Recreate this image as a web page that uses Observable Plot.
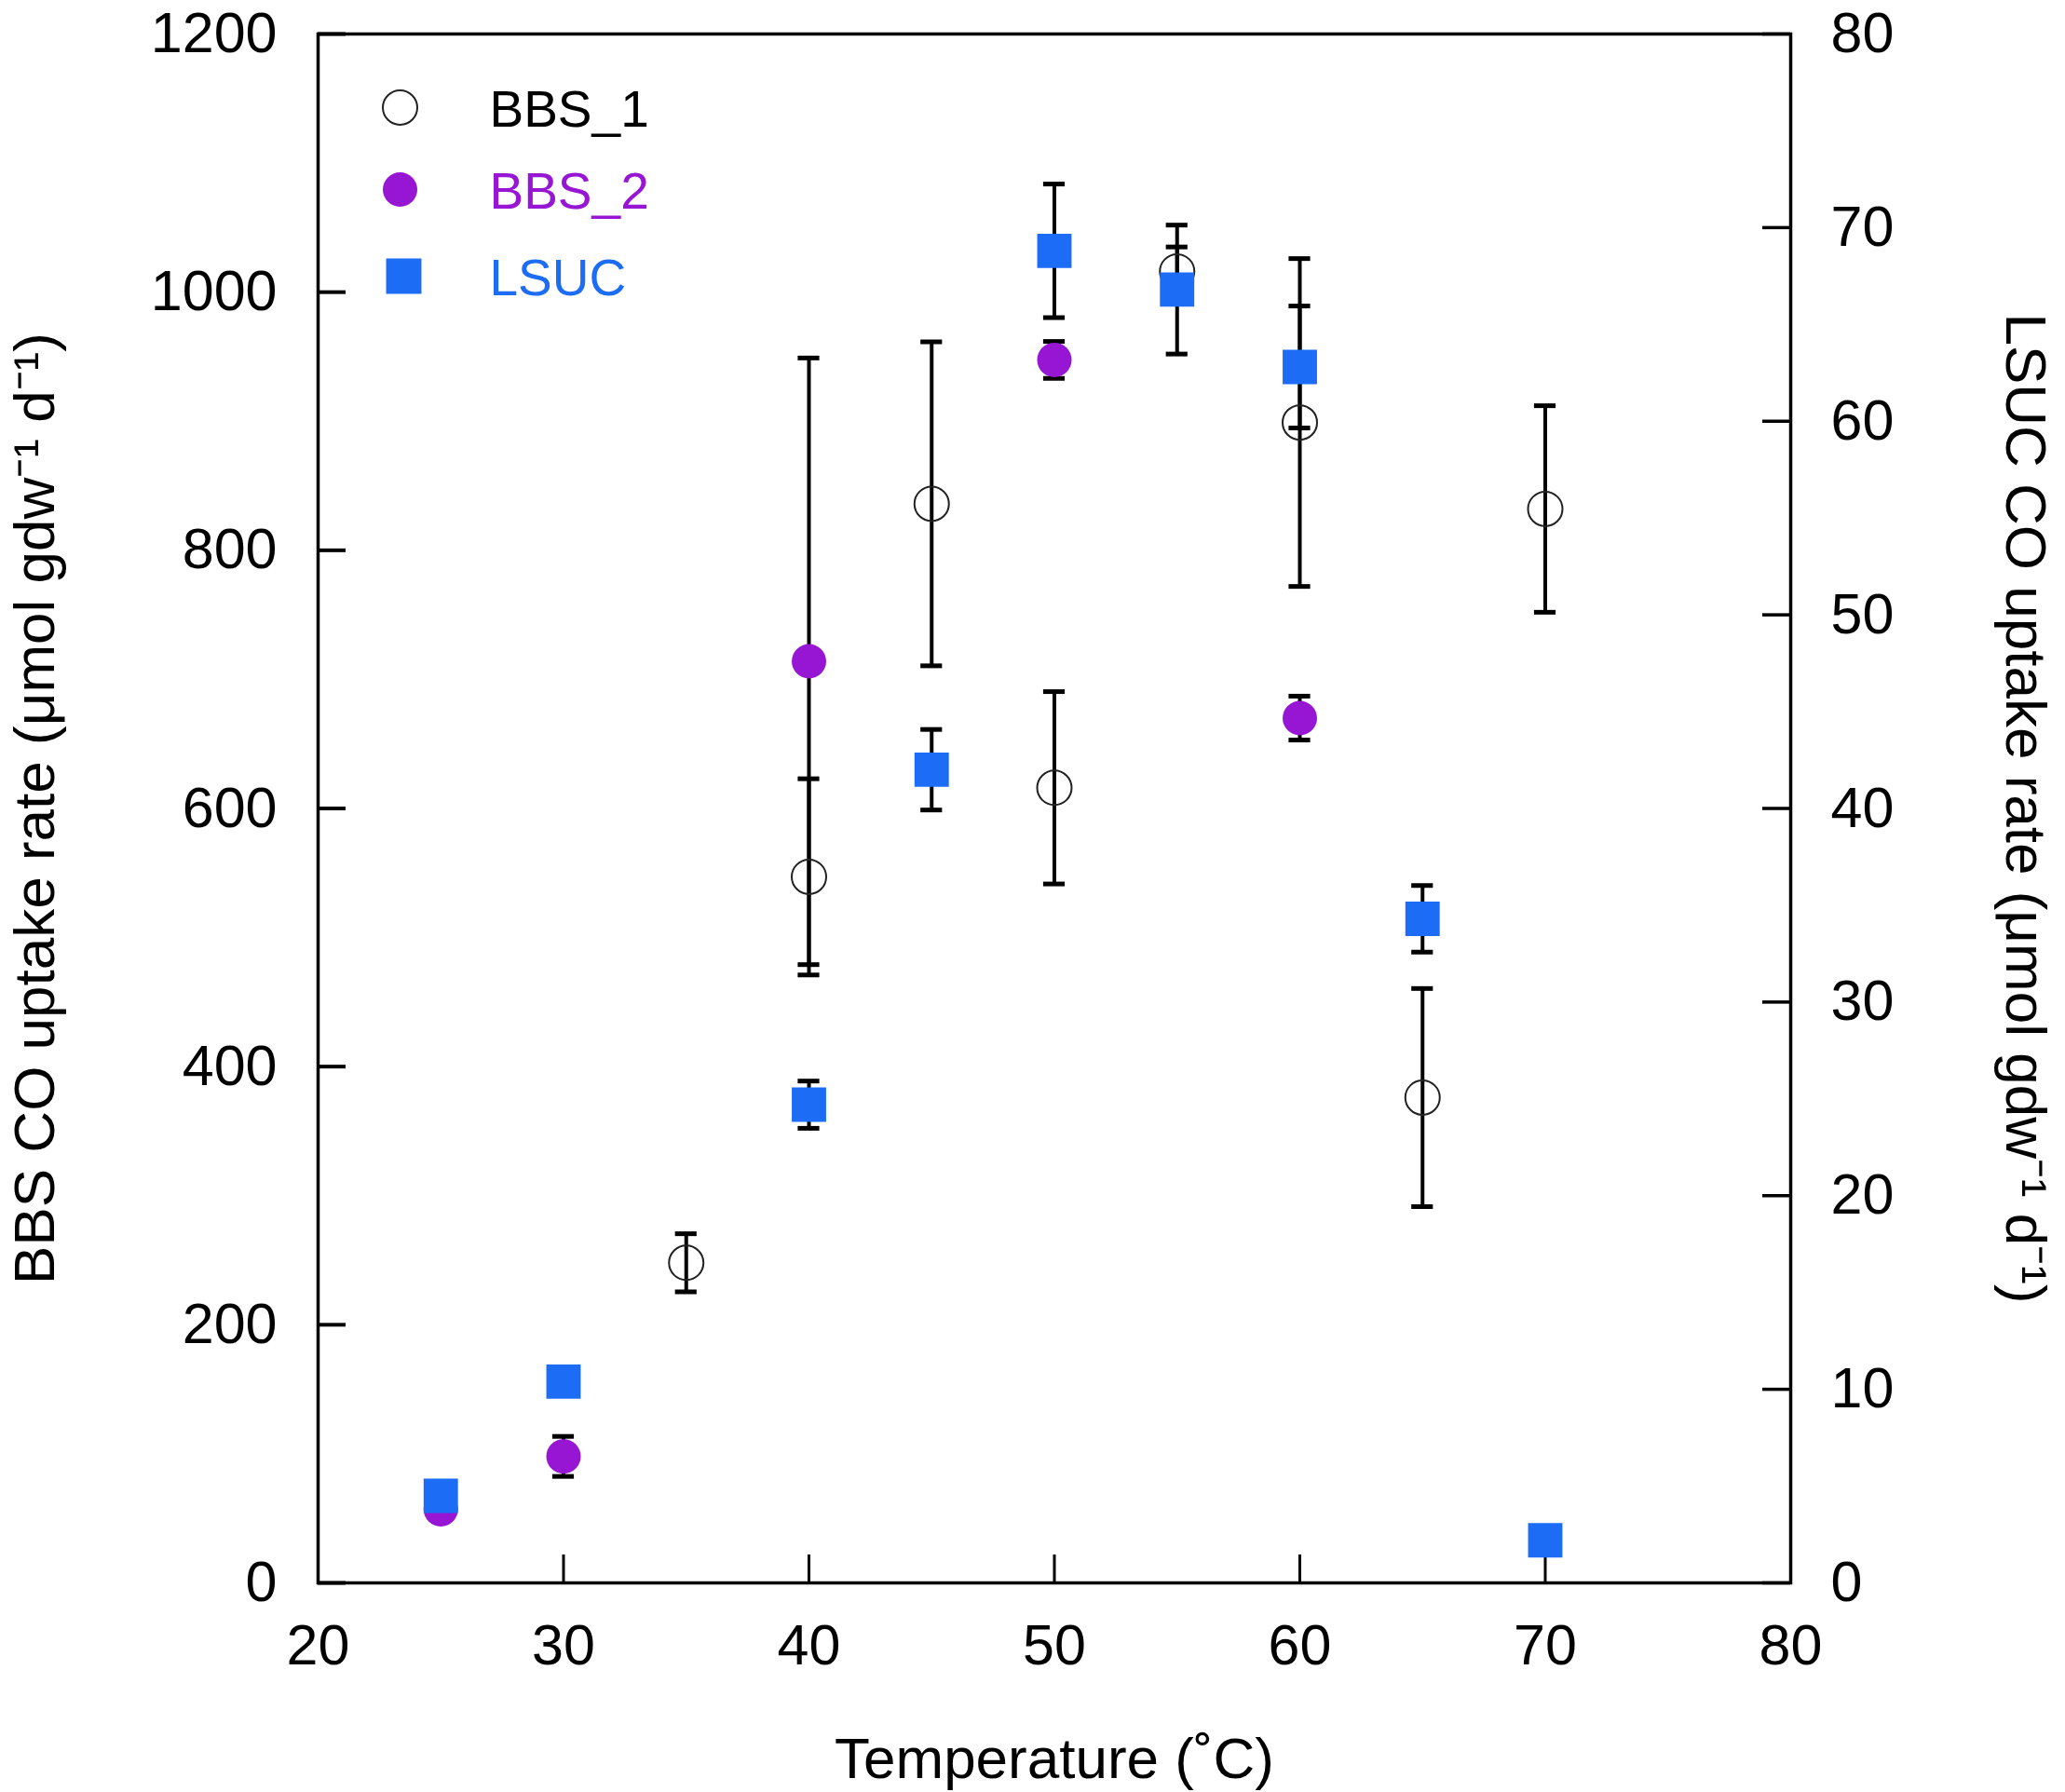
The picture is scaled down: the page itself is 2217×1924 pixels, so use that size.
<!DOCTYPE html>
<html>
<head>
<meta charset="utf-8">
<script src="https://cdn.jsdelivr.net/npm/d3@7"></script>
<script src="https://cdn.jsdelivr.net/npm/@observablehq/plot@0.6"></script>
<style>
  html, body { margin: 0; padding: 0; background: #fff; }
  #chart svg { display: block; }
</style>
</head>
<body>
<div id="chart"></div>
<script>
// ---- Data ----
const bbs1Temp = [35, 40, 45, 50, 55, 60, 65, 70];
const bbs1Rate = [248, 547, 836, 616, 1016, 899, 376, 832];
const bbs1Err  = [22.5, 76, 125.5, 74.5, 19, 127, 84.5, 80];

const bbs2Temp = [25, 30, 40, 50, 60];
const bbs2Rate = [57, 98, 714, 947.5, 670];
const bbs2Err  = [0, 15.5, 235, 14.3, 17];

const lsucTemp = [25, 30, 40, 45, 50, 55, 60, 65, 70];
const lsucRate = [4.5, 10.4, 24.7, 42.0, 68.8, 66.8, 62.8, 34.3, 2.2];
const lsucErr  = [0, 0, 1.22, 2.08, 3.45, 3.33, 3.15, 1.72, 0];

const xTicks = [20, 30, 40, 50, 60, 70, 80];
const leftTicks = [0, 200, 400, 600, 800, 1000, 1200];
const rightTicks = [0, 10, 20, 30, 40, 50, 60, 70, 80];

const seriesNames = ["BBS_1", "BBS_2", "LSUC"];
const purple = "#9616d3";
const blue = "#1c6cf6";

// ---- Layout ----
const W = 2217, H = 1924;
const mL = 341, mR = 295, mT = 36, mB = 225;
const frameW = W - mL - mR, frameH = H - mT - mB;
const tickLen = 30;
const ratio = 1200 / 80; // right axis (LSUC) -> left axis units
const capHalf = 0.44;
const font = "'Liberation Sans', Arial, Helvetica, sans-serif";

const bbs1 = bbs1Temp.map((t, i) => ({x: t, y: bbs1Rate[i], e: bbs1Err[i]}));
const bbs2 = bbs2Temp.map((t, i) => ({x: t, y: bbs2Rate[i], e: bbs2Err[i]}));
const lsuc = lsucTemp.map((t, i) => ({x: t, y: lsucRate[i] * ratio, e: lsucErr[i] * ratio}));

const errRows = [...bbs1, ...bbs2, ...lsuc].filter(d => d.e > 0)
  .map(d => ({x: d.x, lo: d.y - d.e, hi: d.y + d.e}));
const capRows = errRows.flatMap(d => [{x: d.x, y: d.lo}, {x: d.x, y: d.hi}]);

const legendText = (name, dy, fill) => Plot.text([name], {
  frameAnchor: "top-left", dx: 184, dy, text: d => d,
  textAnchor: "start", lineAnchor: "middle", fill, fontSize: 55
});

const chart = Plot.plot({
  width: W,
  height: H,
  marginLeft: mL,
  marginRight: mR,
  marginTop: mT,
  marginBottom: mB,
  style: {fontFamily: font, fontSize: "60px", background: "#fff", color: "#000"},
  x: {domain: [20, 80]},
  y: {domain: [0, 1200]},
  marks: [
    // axes labels
    Plot.axisX({anchor: "bottom", ticks: xTicks, tickSize: 0, tickPadding: 44, label: null, fontSize: 61, tickFormat: d => String(d)}),
    Plot.axisY({anchor: "left", ticks: leftTicks, tickSize: 0, tickPadding: 44, label: null, fontSize: 61, tickFormat: d => String(d)}),
    Plot.axisY({anchor: "right", ticks: rightTicks.map(v => v * ratio), tickSize: 0, tickPadding: 43, label: null, fontSize: 61, tickFormat: d => String(Math.round(d / ratio))}),
    // inward ticks
    Plot.tickY(leftTicks, {y: d => d, insetRight: frameW - tickLen, strokeWidth: 4, stroke: "#000"}),
    Plot.tickY(rightTicks.map(v => v * ratio), {y: d => d, insetLeft: frameW - tickLen, strokeWidth: 3.5, stroke: "#000"}),
    Plot.tickX(xTicks, {x: d => d, insetTop: frameH - tickLen, strokeWidth: 3, stroke: "#000"}),
    // frame
    Plot.frame({stroke: "#000", strokeWidth: 3.5}),
    // error bars
    Plot.ruleX(errRows, {x: "x", y1: "lo", y2: "hi", stroke: "#000", strokeWidth: 4}),
    Plot.ruleY(capRows, {y: "y", x1: d => d.x - capHalf, x2: d => d.x + capHalf, stroke: "#000", strokeWidth: 5}),
    // points
    Plot.dot(bbs1, {x: "x", y: "y", r: 18.5, fill: "none", stroke: "#222", strokeWidth: 2}),
    Plot.dot(bbs2, {x: "x", y: "y", r: 18.5, fill: purple, stroke: "none"}),
    Plot.dot(lsuc, {x: "x", y: "y", r: 20.8, symbol: "square", fill: blue, stroke: "none"}),
    // legend
    Plot.dot([seriesNames[0]], {frameAnchor: "top-left", dx: 88, dy: 79, r: 18.5, fill: "none", stroke: "#222", strokeWidth: 2}),
    Plot.dot([seriesNames[1]], {frameAnchor: "top-left", dx: 88, dy: 167, r: 18.5, fill: purple, stroke: "none"}),
    Plot.dot([seriesNames[2]], {frameAnchor: "top-left", dx: 92, dy: 260, r: 21.4, symbol: "square", fill: blue, stroke: "none"}),
    legendText(seriesNames[0], 82, "#000"),
    legendText(seriesNames[1], 170, purple),
    legendText(seriesNames[2], 263, blue),
    // axis titles
    Plot.text(["Temperature (˚C)"], {frameAnchor: "bottom", dy: 190, text: d => d, textAnchor: "middle", lineAnchor: "middle", fontSize: 62, fill: "#000"}),
    Plot.text(["BBS CO uptake rate (μmol gdw⁻¹ d⁻¹)"], {frameAnchor: "left", dx: -303, rotate: -90, text: d => d, textAnchor: "middle", lineAnchor: "middle", fontSize: 62, fill: "#000"}),
    Plot.text(["LSUC CO uptake rate (μmol gdw⁻¹ d⁻¹)"], {frameAnchor: "right", dx: 251, rotate: 90, text: d => d, textAnchor: "middle", lineAnchor: "middle", fontSize: 62, fill: "#000"})
  ]
});

document.getElementById("chart").appendChild(chart);
</script>
</body>
</html>
